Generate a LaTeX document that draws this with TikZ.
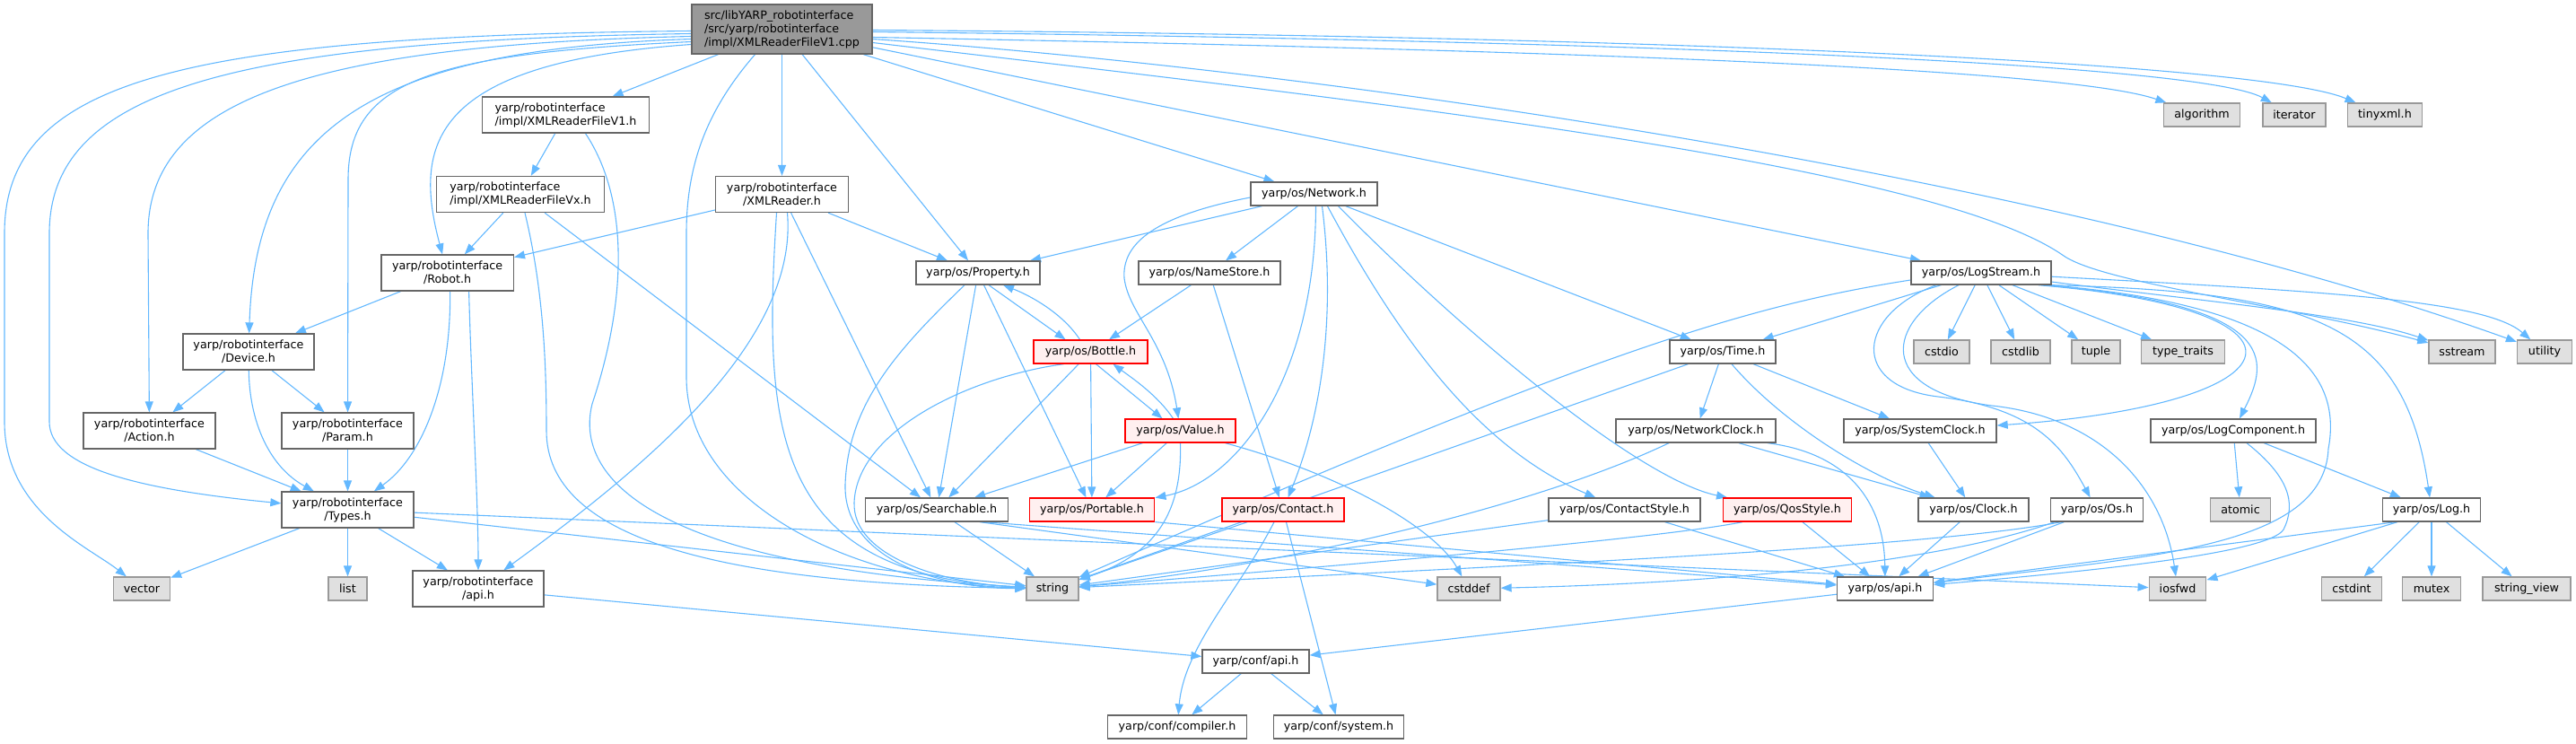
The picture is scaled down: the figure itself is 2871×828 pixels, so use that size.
\documentclass[tikz,border=0pt]{standalone}
\usepackage{fontspec}
\setmainfont{DejaVu Sans}
\usetikzlibrary{arrows.meta,calc,backgrounds}
\definecolor{edgec}{HTML}{63B8FF}
\definecolor{bordc}{HTML}{666666}
\definecolor{sysb}{HTML}{999999}
\definecolor{sysf}{HTML}{E0E0E0}
\definecolor{redb}{HTML}{FF0000}
\definecolor{redf}{HTML}{FFF0F0}
\definecolor{rootf}{HTML}{999999}
\newcommand{\nf}{\fontsize{12.7}{15}\selectfont}
\begin{document}
\begin{tikzpicture}[x=1pt,y=-1pt,
  box/.style={draw=bordc,fill=white,line width=1.3pt,inner sep=0pt,font=\nf,align=center,minimum height=26pt},
  box2/.style={box,minimum height=40pt},
  sysbox/.style={box,draw=sysb,fill=sysf},
  redbox/.style={box,draw=redb,fill=redf},
  rootbox/.style={box,fill=rootf,minimum height=55pt,align=left},
  e/.style={draw=edgec,line width=1.1pt,-{Triangle[length=12pt,width=9pt]}},
]
\useasboundingbox (0,0) rectangle (2871,828);
% ---------- nodes ----------
\node[rootbox,minimum width=201pt] (root) at (871.5,32.5) {src/libYARP\_robotinterface\\/src/yarp/robotinterface\\/impl/XMLReaderFileV1.cpp};
\node[box2,align=left,minimum width=186pt] (v1h) at (630.5,128) {yarp/robotinterface\\/impl/XMLReaderFileV1.h};
\node[box2,align=left,minimum width=187pt] (vxh) at (580,216.5) {yarp/robotinterface\\/impl/XMLReaderFileVx.h};
\node[box2,minimum width=147.5pt] (xmlr) at (871.5,216.5) {yarp/robotinterface\\/XMLReader.h};
\node[box2,minimum width=147.5pt] (robot) at (498.6,304) {yarp/robotinterface\\/Robot.h};
\node[box2,minimum width=146pt] (device) at (277,392) {yarp/robotinterface\\/Device.h};
\node[box2,minimum width=147pt] (action) at (166.5,480) {yarp/robotinterface\\/Action.h};
\node[box2,minimum width=147pt] (param) at (387.5,480) {yarp/robotinterface\\/Param.h};
\node[box2,minimum width=147pt] (types) at (387.5,568) {yarp/robotinterface\\/Types.h};
\node[sysbox,minimum width=63pt] (vector) at (158,656) {vector};
\node[sysbox,minimum width=43pt] (list) at (387.5,656) {list};
\node[box2,minimum width=146pt] (riapi) at (533,656) {yarp/robotinterface\\/api.h};
\node[box,minimum width=141pt] (network) at (1464.5,216) {yarp/os/Network.h};
\node[box,minimum width=138pt] (property) at (1090,304) {yarp/os/Property.h};
\node[box,minimum width=158pt] (namestore) at (1348,304) {yarp/os/NameStore.h};
\node[redbox,minimum width=127pt] (bottle) at (1215.5,392) {yarp/os/Bottle.h};
\node[box,minimum width=118pt] (time) at (1920,392) {yarp/os/Time.h};
\node[box,minimum width=156pt] (logstream) at (2208,304) {yarp/os/LogStream.h};
\node[sysbox,minimum width=85.5pt] (algorithm) at (2454,128) {algorithm};
\node[sysbox,minimum width=70pt] (iterator) at (2557,128) {iterator};
\node[sysbox,minimum width=83.5pt] (tinyxml) at (2658,128) {tinyxml.h};
\node[sysbox,minimum width=62pt] (cstdio) at (2164,392) {cstdio};
\node[sysbox,minimum width=66pt] (cstdlib) at (2252,392) {cstdlib};
\node[sysbox,minimum width=54pt] (tuple) at (2336,392) {tuple};
\node[sysbox,minimum width=93pt] (typetraits) at (2433,392) {type\_traits};
\node[sysbox,minimum width=74pt] (sstream) at (2744,392) {sstream};
\node[sysbox,minimum width=61pt] (utility) at (2836,392) {utility};
\node[redbox,minimum width=123pt] (value) at (1315.5,480) {yarp/os/Value.h};
\node[box,minimum width=159pt] (searchable) at (1044,568) {yarp/os/Searchable.h};
\node[redbox,minimum width=139.5pt] (portable) at (1217,568) {yarp/os/Portable.h};
\node[redbox,minimum width=136pt] (contact) at (1430,568) {yarp/os/Contact.h};
\node[box,minimum width=169pt] (contactstyle) at (1810.5,568) {yarp/os/ContactStyle.h};
\node[box,minimum width=178pt] (networkclock) at (1890,480) {yarp/os/NetworkClock.h};
\node[sysbox,minimum width=58pt] (string) at (1173,656) {string};
\node[sysbox,minimum width=70pt] (cstddef) at (1637,656) {cstddef};
\node[box,minimum width=119pt] (confapi) at (1399.5,737) {yarp/conf/api.h};
\node[box,minimum width=154.5pt] (compiler) at (1312,810) {yarp/conf/compiler.h};
\node[box,minimum width=145.5pt] (system) at (1492,810) {yarp/conf/system.h};
\node[box,minimum width=170pt] (systemclock) at (2140,480) {yarp/os/SystemClock.h};
\node[box,minimum width=184pt] (logcomponent) at (2489,480) {yarp/os/LogComponent.h};
\node[redbox,minimum width=143.5pt] (qosstyle) at (1992,568) {yarp/os/QosStyle.h};
\node[box,minimum width=123pt] (clock) at (2199.5,568) {yarp/os/Clock.h};
\node[box,minimum width=102.6pt] (os) at (2337,568) {yarp/os/Os.h};
\node[sysbox,minimum width=67pt] (atomic) at (2497,568) {atomic};
\node[box,minimum width=109pt] (log) at (2710,568) {yarp/os/Log.h};
\node[box,minimum width=107pt] (osapi) at (2101,656) {yarp/os/api.h};
\node[sysbox,minimum width=63.6pt] (iosfwd) at (2427,656) {iosfwd};
\node[sysbox,minimum width=67pt] (cstdint) at (2621,656) {cstdint};
\node[sysbox,minimum width=65pt] (mutex) at (2710,656) {mutex};
\node[sysbox,minimum width=98pt] (stringview) at (2816,656) {string\_view};
% ---------- edges ----------
\begin{scope}[on background layer]
% root
\draw[e] ($(root.west)+(0,2)$) .. controls (200,40) and (5,90) .. (5,260) -- (5,470) .. controls (5,570) and (100,610) .. (vector);
\draw[e] ($(root.west)+(0,5)$) .. controls (260,45) and (55,100) .. (55,260) -- (55,470) .. controls (55,520) and (150,545) .. (types);
\draw[e] ($(root.west)+(0,8)$) .. controls (350,50) and (165,110) .. (165,260) -- (action);
\draw[e] ($(root.west)+(0,11)$) .. controls (420,55) and (285,140) .. (device);
\draw[e] ($(root.west)+(0,14)$) .. controls (480,60) and (388,90) .. (388,200) -- (param);
\draw[e] ($(root.west)+(0,17)$) .. controls (480,70) and (460,160) .. (robot);
\draw[e] (root) -- (v1h);
\draw[e] ($(root.south)+(-30,0)$) .. controls (790,120) and (765,180) .. (765,260) -- (765,420) .. controls (765,560) and (950,650) .. (string);
\draw[e] (root) -- (xmlr);
\draw[e] (root) -- (property);
\draw[e] (root) -- (network);
\draw[e] (root) -- (logstream);
\draw[e] ($(root.east)+(0,1)$) .. controls (1850,40) and (2520,70) .. (tinyxml);
\draw[e] ($(root.east)+(0,3)$) .. controls (1800,45) and (2450,70) .. (iterator);
\draw[e] ($(root.east)+(0,9)$) .. controls (1700,55) and (2300,75) .. (algorithm);
\draw[e] ($(root.east)+(0,11)$) .. controls (1500,80) and (2300,200) .. (utility);
\draw[e] ($(root.east)+(0,15)$) .. controls (1500,110) and (2150,180) .. (2300,285) .. controls (2345,316) and (2550,340) .. (sstream);
% XMLReaderFileV1.h / Vx.h
\draw[e] (v1h) -- (vxh);
\draw[e] ($(v1h.south)+(22,0)$) .. controls (700,220) and (700,330) .. (660,450) .. controls (640,530) and (720,630) .. (string);
\draw[e] (vxh) -- (robot);
\draw[e] ($(vxh.south)+(5,0)$) .. controls (605,320) and (609,400) .. (609,480) .. controls (609,600) and (800,650) .. (string);
\draw[e] (vxh) -- (searchable);
% XMLReader.h
\draw[e] (xmlr) -- (robot);
\draw[e] (xmlr) -- (property);
\draw[e] (xmlr) -- (searchable);
\draw[e] ($(xmlr.south)+(-6,0)$) .. controls (850,480) and (860,640) .. (string);
\draw[e] ($(xmlr.south)+(6,0)$) .. controls (890,380) and (720,520) .. (riapi);
% Robot / Device / Types
\draw[e] (robot) -- (device);
\draw[e] ($(robot.south)+(3,0)$) .. controls (503,430) and (470,510) .. (types);
\draw[e] ($(robot.south)+(24,0)$) .. controls (525,420) and (533,560) .. (riapi);
\draw[e] (device) -- (action);
\draw[e] (device) .. controls (278,470) and (300,520) .. (types);
\draw[e] (device) -- (param);
\draw[e] (action) -- (types);
\draw[e] (param) -- (types);
\draw[e] (types) -- (vector);
\draw[e] (types) -- (list);
\draw[e] (types) -- (riapi);
\draw[e] (types) -- (string);
\draw[e] (types) -- (iosfwd);
\draw[e] (riapi) -- (confapi);
% Network
\draw[e] (network) -- (property);
\draw[e] (network) -- (namestore);
\draw[e] ($(network.west)+(0,4)$) .. controls (1290,240) and (1250,270) .. (1253,310) .. controls (1258,350) and (1300,380) .. (value);
\draw[e] ($(network.south)+(2,0)$) .. controls (1466,420) and (1380,537) .. (portable);
\draw[e] ($(network.south)+(9,0)$) .. controls (1490,360) and (1470,470) .. (contact);
\draw[e] ($(network.south)+(15,0)$) .. controls (1560,380) and (1650,500) .. (contactstyle);
\draw[e] ($(network.south)+(27,0)$) .. controls (1640,380) and (1830,535) .. (qosstyle);
\draw[e] (network) -- (time);
% Property / Bottle / NameStore / Value
\draw[e] ($(property.south)+(12,0)$) -- ($(bottle.north)+(-28,0)$);
\draw[e] ($(bottle.north)+(-12,0)$) .. controls (1185,350) and (1150,330) .. ($(property.south)+(28,0)$);
\draw[e] (property) -- (searchable);
\draw[e] (property) -- (portable);
\draw[e] ($(property.south)+(-15,0)$) .. controls (1000,390) and (945,450) .. (942,540) .. controls (940,620) and (1040,655) .. (string);
\draw[e] ($(bottle.south)+(6,0)$) -- ($(value.north)+(-20,0)$);
\draw[e] ($(value.north)+(-8,0)$) .. controls (1290,440) and (1260,420) .. ($(bottle.south)+(25,0)$);
\draw[e] (bottle) -- (searchable);
\draw[e] (bottle) -- (portable);
\draw[e] ($(bottle.south)+(-30,0)$) .. controls (1080,420) and (955,480) .. (952,560) .. controls (950,620) and (1050,650) .. (string);
\draw[e] (namestore) -- (bottle);
\draw[e] (namestore) -- (contact);
\draw[e] (value) -- (searchable);
\draw[e] (value) -- (portable);
\draw[e] (value.south) .. controls (1318,580) and (1280,620) .. (string);
\draw[e] ($(value.south)+(50,0)$) .. controls (1500,530) and (1600,590) .. (cstddef);
% Searchable / Portable / Contact
\draw[e] (searchable) -- (string);
\draw[e] ($(searchable.south)+(48,0)$) -- (cstddef);
\draw[e] ($(searchable.south)+(52,0)$) -- (osapi);
\draw[e] (portable.south east) -- (osapi);
\draw[e] (contact) -- (string);
\draw[e] ($(contact.south)+(-10,0)$) .. controls (1380,660) and (1320,720) .. (compiler);
\draw[e] (contact) -- (system);
\draw[e] (contactstyle) -- (string);
\draw[e] (contactstyle) -- (osapi);
\draw[e] (qosstyle) -- (osapi);
\draw[e] ($(qosstyle.south)+(-50,0)$) .. controls (1850,600) and (1500,630) .. (string);
% NetworkClock / Time
\draw[e] (networkclock) -- (clock);
\draw[e] ($(networkclock.south)+(80,0)$) .. controls (2060,505) and (2100,560) .. (osapi);
\draw[e] ($(networkclock.south)+(-30,0)$) .. controls (1700,570) and (1400,635) .. (string);
\draw[e] (time) -- (networkclock);
\draw[e] (time) -- (systemclock);
\draw[e] ($(time.south)+(10,0)$) .. controls (1985,470) and (2080,530) .. (clock);
\draw[e] (time) -- (string);
% LogStream
\draw[e] (logstream) -- (time);
\draw[e] (logstream) -- (cstdio);
\draw[e] (logstream) -- (cstdlib);
\draw[e] (logstream) -- (tuple);
\draw[e] (logstream) -- (typetraits);
\draw[e] ($(logstream.west)+(0,8)$) .. controls (1950,340) and (1780,390) .. (string);
\draw[e] (logstream) .. controls (2450,335) and (2620,350) .. (sstream);
\draw[e] (logstream) .. controls (2600,325) and (2770,335) .. (utility);
\draw[e] ($(logstream.south east)+(-15,0)$) .. controls (2600,345) and (2570,450) .. (systemclock);
\draw[e] ($(logstream.south east)+(-10,0)$) .. controls (2540,340) and (2530,400) .. (logcomponent);
\draw[e] ($(logstream.south east)+(-5,0)$) .. controls (2560,340) and (2610,420) .. (2595,500) .. controls (2590,610) and (2400,620) .. (osapi);
\draw[e] ($(logstream.south east)+(-2,0)$) .. controls (2580,325) and (2680,360) .. (log);
\draw[e] ($(logstream.south)+(-50,0)$) .. controls (2070,350) and (2060,430) .. (2160,442) .. controls (2270,455) and (2300,500) .. (os);
\draw[e] ($(logstream.south)+(-25,0)$) .. controls (2100,360) and (2090,435) .. (2220,452) .. controls (2340,465) and (2410,540) .. (iosfwd);
% lower right
\draw[e] (systemclock) -- (clock);
\draw[e] (clock) -- (osapi);
\draw[e] (os) -- (osapi);
\draw[e] ($(os.south)+(-40,0)$) .. controls (2150,610) and (1700,630) .. (string);
\draw[e] ($(os.south)+(-47,0)$) .. controls (2150,630) and (1900,650) .. (cstddef);
\draw[e] (logcomponent) -- (atomic);
\draw[e] (logcomponent) -- (log);
\draw[e] ($(logcomponent.south)+(15,0)$) .. controls (2550,530) and (2560,560) .. (2545,590) .. controls (2530,615) and (2350,635) .. (osapi);
\draw[e] ($(log.south)+(-40,0)$) -- (osapi);
\draw[e] ($(log.south)+(-38,0)$) -- (iosfwd);
\draw[e] (log) -- (cstdint);
\draw[e] (log) -- (mutex);
\draw[e] (log) -- (stringview);
\draw[e] (osapi) -- (confapi);
\draw[e] (confapi) -- (compiler);
\draw[e] (confapi) -- (system);
\end{scope}
\end{tikzpicture}
\end{document}
